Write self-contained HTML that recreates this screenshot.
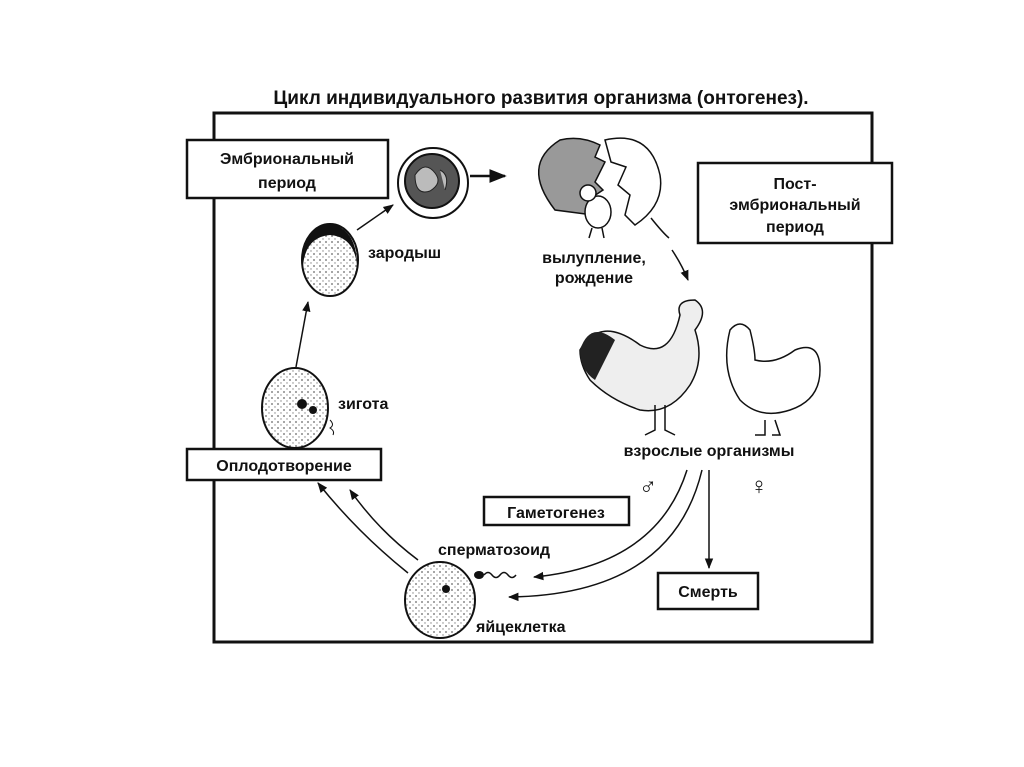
<!DOCTYPE html>
<html><head><meta charset="utf-8"><style>
body{margin:0;background:#fff}
svg{display:block}
text{font-family:"Liberation Sans",sans-serif;font-weight:bold;fill:#111}
</style></head><body>
<svg width="1024" height="767" viewBox="0 0 1024 767" xmlns="http://www.w3.org/2000/svg">
<defs>
<pattern id="dots" width="6" height="6" patternUnits="userSpaceOnUse"><rect width="6" height="6" fill="#fff"/><circle cx="2" cy="2" r="0.9" fill="#666"/><circle cx="5" cy="5" r="0.7" fill="#888"/></pattern>
<marker id="ah" viewBox="0 0 10 10" refX="9" refY="5" markerWidth="7" markerHeight="7" orient="auto"><path d="M0,1 L10,5 L0,9 z" fill="#111"/></marker>
</defs>
<text x="541" y="104" font-size="19" text-anchor="middle">Цикл индивидуального развития организма (онтогенез).</text>
<rect x="214" y="113" width="658" height="529" fill="none" stroke="#111" stroke-width="3"/>
<rect x="187" y="140" width="201" height="58" fill="#fff" stroke="#111" stroke-width="2.5"/>
<text x="287" y="164" font-size="16" text-anchor="middle">Эмбриональный</text>
<text x="287" y="188" font-size="16" text-anchor="middle">период</text>
<rect x="698" y="163" width="194" height="80" fill="#fff" stroke="#111" stroke-width="2.5"/>
<text x="795" y="189" font-size="16" text-anchor="middle">Пост-</text>
<text x="795" y="210" font-size="16" text-anchor="middle">эмбриональный</text>
<text x="795" y="232" font-size="16" text-anchor="middle">период</text>
<rect x="187" y="449" width="194" height="31" fill="#fff" stroke="#111" stroke-width="2.5"/>
<text x="284" y="471" font-size="16" text-anchor="middle">Оплодотворение</text>
<rect x="484" y="497" width="145" height="28" fill="#fff" stroke="#111" stroke-width="2.5"/>
<text x="556" y="518" font-size="16" text-anchor="middle">Гаметогенез</text>
<rect x="658" y="573" width="100" height="36" fill="#fff" stroke="#111" stroke-width="2.5"/>
<text x="708" y="597" font-size="16" text-anchor="middle">Смерть</text>
<circle cx="433" cy="183" r="35" fill="#fff" stroke="#111" stroke-width="2"/>
<circle cx="432" cy="181" r="27" fill="#555" stroke="#111" stroke-width="2"/>
<path d="M415,175 q10,-15 20,-2 q8,10 -5,18 q-15,5 -15,-16z M440,170 q10,5 5,20" fill="#bbb" stroke="#222"/>
<line x1="470" y1="176" x2="505" y2="176" stroke="#111" stroke-width="2.5" marker-end="url(#ah)"/>
<path d="M555,210 q-35,-45 5,-70 q20,-5 40,5 l-5,12 l10,5 l-10,20 l8,8 l-15,10 l5,15 z" fill="#999" stroke="#111" stroke-width="1.5"/>
<path d="M605,140 q45,-10 55,35 q5,30 -25,50 l-10,-10 l5,-20 l-12,-10 l8,-18 l-15,-5 z" fill="#fff" stroke="#111" stroke-width="1.5"/>
<ellipse cx="598" cy="212" rx="13" ry="16" fill="#fff" stroke="#111" stroke-width="1.5"/>
<circle cx="588" cy="193" r="8" fill="#fff" stroke="#111" stroke-width="1.5"/>
<path d="M592,228 l-3,10 M602,228 l2,10" stroke="#111" stroke-width="1.5"/>
<text x="594" y="263" font-size="16" text-anchor="middle">вылупление,</text>
<text x="594" y="283" font-size="16" text-anchor="middle">рождение</text>
<path d="M651,218 q12,15 18,20 M672,250 q10,15 16,30" stroke="#111" stroke-width="1.5" fill="none" marker-end="url(#ah)"/>
<ellipse cx="330" cy="260" rx="28" ry="36" fill="url(#dots)" stroke="#111" stroke-width="2"/>
<path d="M303,265 q-3,-35 27,-42 q27,7 27,42 q-3,-28 -27,-30 q-24,2 -27,30z" fill="#111"/>
<text x="368" y="258" font-size="16">зародыш</text>
<line x1="357" y1="230" x2="393" y2="205" stroke="#111" stroke-width="1.5" marker-end="url(#ah)"/>
<ellipse cx="295" cy="408" rx="33" ry="40" fill="url(#dots)" stroke="#111" stroke-width="2"/>
<circle cx="302" cy="404" r="5" fill="#111"/><circle cx="313" cy="410" r="4" fill="#111"/>
<path d="M330,420 q5,5 0,8 q5,3 3,7" stroke="#111" fill="none"/>
<text x="338" y="409" font-size="16">зигота</text>
<line x1="296" y1="367" x2="308" y2="302" stroke="#111" stroke-width="1.5" marker-end="url(#ah)"/>
<path d="M580,350 q20,-35 60,-5 q30,15 40,-30 q-5,-15 15,-15 q15,10 0,30 q10,30 -5,55 q-20,30 -50,25 q-30,-10 -50,-30 q-10,-15 -10,-30z" fill="#eee" stroke="#111" stroke-width="1.5"/>
<path d="M580,350 q10,-30 35,-10 q-10,20 -20,40 q-15,-10 -15,-30z" fill="#222"/>
<path d="M655,405 l0,25 l-10,5 M665,405 l0,25 l10,5" stroke="#111" stroke-width="1.5" fill="none"/>
<path d="M730,330 q10,-12 20,0 q5,20 5,30 q20,5 40,-10 q25,-10 25,20 q0,30 -30,40 q-30,10 -50,-10 q-20,-30 -10,-70z" fill="#fff" stroke="#111" stroke-width="1.5"/>
<path d="M765,420 l0,15 l-10,0 M775,420 l5,15 l-8,0" stroke="#111" stroke-width="1.5" fill="none"/>
<text x="709" y="456" font-size="16" text-anchor="middle">взрослые организмы</text>
<text x="639" y="494" font-size="24" font-weight="normal">♂</text>
<text x="750" y="494" font-size="24" font-weight="normal">♀</text>
<path d="M687,470 q-30,95 -153,107" stroke="#111" stroke-width="1.5" fill="none" marker-end="url(#ah)"/>
<path d="M702,470 q-30,125 -193,127" stroke="#111" stroke-width="1.5" fill="none" marker-end="url(#ah)"/>
<line x1="709" y1="470" x2="709" y2="568" stroke="#111" stroke-width="1.5" marker-end="url(#ah)"/>
<path d="M408,573 q-50,-40 -90,-90" stroke="#111" stroke-width="1.5" fill="none" marker-end="url(#ah)"/>
<path d="M418,560 q-40,-30 -68,-70" stroke="#111" stroke-width="1.5" fill="none" marker-end="url(#ah)"/>
<ellipse cx="440" cy="600" rx="35" ry="38" fill="url(#dots)" stroke="#111" stroke-width="2"/>
<circle cx="446" cy="589" r="4" fill="#111"/>
<text x="438" y="555" font-size="16">сперматозоид</text>
<ellipse cx="479" cy="575" rx="5" ry="4" fill="#111"/>
<path d="M484,575 q4,-5 8,0 q4,5 8,0 q4,-5 8,0 q4,5 8,0" stroke="#111" fill="none" stroke-width="1.5"/>
<text x="476" y="632" font-size="16">яйцеклетка</text>
</svg>
</body></html>
